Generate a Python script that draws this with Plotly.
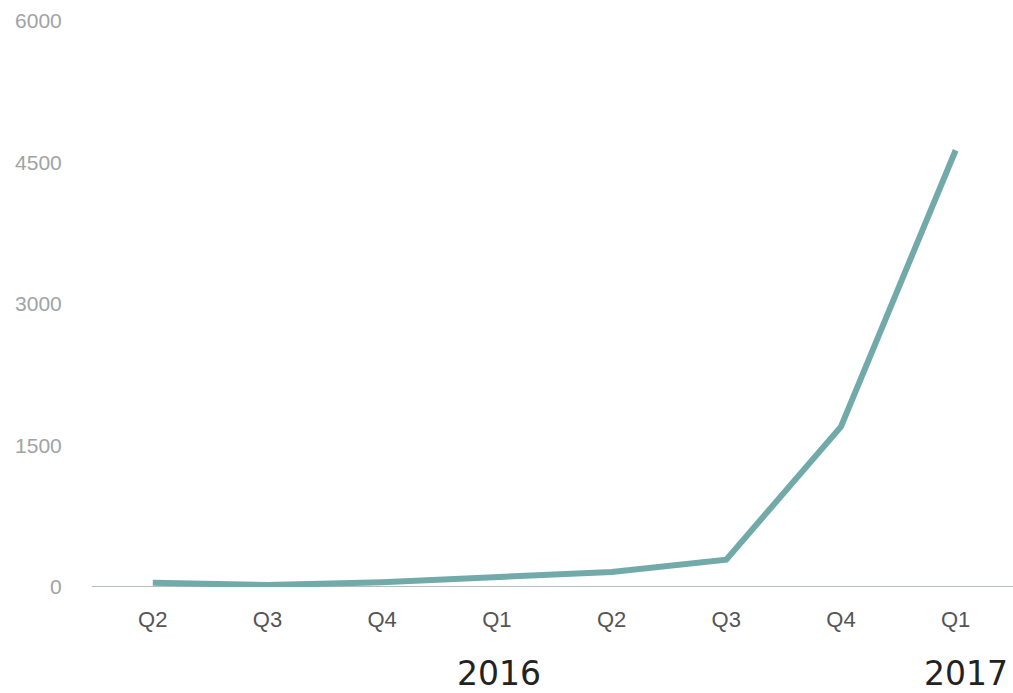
import plotly.graph_objects as go

quarters = ["Q2", "Q3", "Q4", "Q1", "Q2", "Q3", "Q4", "Q1"]
values = [45, 20, 50, 100, 160, 290, 1700, 4630]
year_labels = ["2016", "2017"]
year_positions = [3, 7]
year_shifts = [2, 10]
y_ticks = [0, 1500, 3000, 4500, 6000]

x = list(range(len(quarters)))

fig = go.Figure()
fig.add_trace(go.Scatter(
    x=x, y=values, mode="lines",
    line=dict(color="#72aaa9", width=6),
    hoverinfo="skip", showlegend=False,
))

for yl, xp, xs in zip(year_labels, year_positions, year_shifts):
    fig.add_annotation(
        x=xp, y=-0.153, xref="x", yref="paper", text=yl,
        showarrow=False, yanchor="middle", xanchor="center", xshift=xs,
        font=dict(family="DejaVu Sans", size=33, color="#222222"),
    )

fig.update_layout(
    width=1013, height=693,
    margin=dict(l=92, r=0, t=21, b=106),
    plot_bgcolor="white", paper_bgcolor="white",
    xaxis=dict(
        tickvals=x, ticktext=quarters, range=[-0.53, 7.5],
        showgrid=False, zeroline=False, showline=False, automargin=False,
        tickfont=dict(family="Liberation Sans", size=22, color="#555555"),
        ticks="outside", ticklen=13, tickcolor="rgba(0,0,0,0)",
    ),
    yaxis=dict(
        tickvals=y_ticks, range=[0, 6000],
        showgrid=False, zeroline=False, showline=False, automargin=False,
        tickfont=dict(family="Liberation Sans", size=21, color="#a0a4a4"),
        ticks="outside", ticklen=25, tickcolor="rgba(0,0,0,0)",
    ),
)
fig.add_shape(type="line", xref="paper", yref="y", x0=0, x1=1, y0=0, y1=0,
              line=dict(color="#9aa8a6", width=1.5), layer="below")

fig.write_html(
    "out.html",
    config={"displayModeBar": False},
    post_script="document.body.style.margin='0';document.body.style.overflow='hidden';",
)
